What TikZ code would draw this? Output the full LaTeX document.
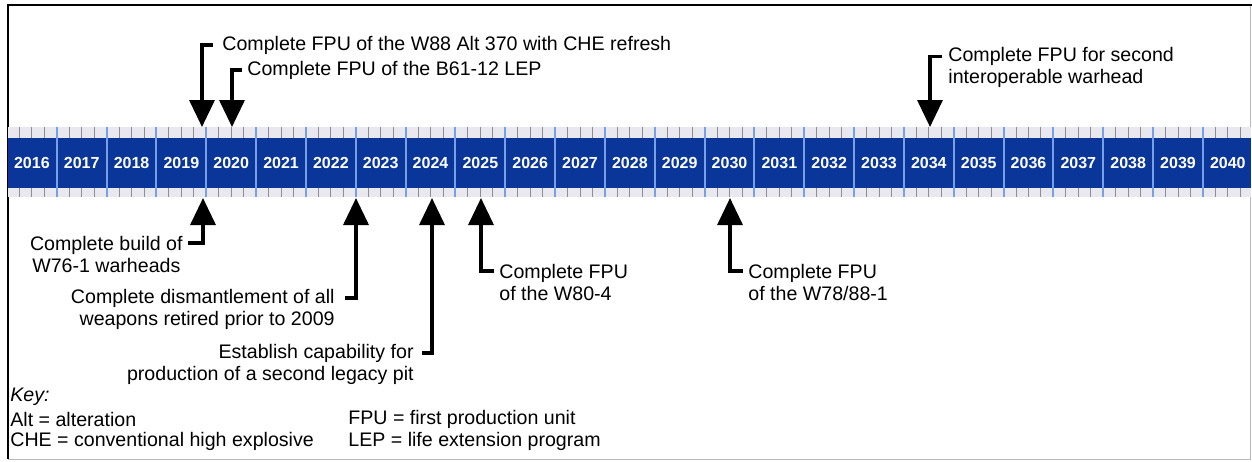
\documentclass[tikz,border=0pt]{standalone}
\usepackage{fontspec}
\setmainfont{Liberation Sans}
\usepackage{tikz}
\usetikzlibrary{arrows.meta, positioning}
\usepackage{xcolor}
\definecolor{bandBlue}{RGB}{10, 54, 154}
\definecolor{divBlue}{RGB}{120, 160, 228}
\definecolor{stripGray}{RGB}{232, 232, 238}
\definecolor{tickGray}{RGB}{140, 140, 152}

\begin{document}
\begin{tikzpicture}[x=0.5pt, y=-0.5pt,
    lbl/.style={font=\fontsize{9.8}{11}\selectfont, inner sep=0pt},
    yr/.style={font=\fontsize{8}{9}\selectfont\bfseries, text=white, inner sep=0pt},
    evarrow/.style={line width=1.7pt, -{Triangle[width=12.5pt, length=13.5pt]}}]
  \useasboundingbox (0,0) rectangle (1252,461);

  % Frame
  \draw[gray!55, line width=0.5pt] (1250,5) -- (1250,459) -- (8,459);
  \draw[line width=1.4pt] (8,459) -- (8,5) -- (1252,5);

  % Tick strips
  \fill[stripGray] (8,127) rectangle (1251,138);
  \fill[stripGray] (8,188) rectangle (1251,197);
  \foreach \q in {1,...,99} {
    \pgfmathsetmacro{\qx}{7+\q*49.83/4}
    \draw[tickGray, line width=0.5pt] (\qx,127) -- (\qx,138) (\qx,188) -- (\qx,197);
  }

  % Year band
  \fill[bandBlue] (8,138) rectangle (1251,188);
  \foreach \i in {1,...,24} {
    \pgfmathsetmacro{\dx}{7+\i*49.83}
    \draw[divBlue, line width=1pt] (\dx,127) -- (\dx,197);
  }
  \foreach \i in {0,...,24} {
    \pgfmathtruncatemacro{\yy}{2016+\i}
    \node[yr] (y\yy) at (7+\i*49.83+24.9, 163) {\yy};
  }

  % Arrow tips
  \coordinate (tW88) at (202,127);
  \coordinate (tB61) at (232,127);
  \coordinate (tIOW) at (930,127);
  \coordinate (tW76) at (203,198);
  \coordinate (tDis) at (356,198);
  \coordinate (tPit) at (432,198);
  \coordinate (tW80) at (481,198);
  \coordinate (tW78) at (730,198);

  % Milestones above
  \node[lbl, anchor=west] (lW88) at (222,45) {Complete FPU of the W88 Alt 370 with CHE refresh};
  \node[lbl, anchor=west] (lB61) at (247,70) {Complete FPU of the B61-12 LEP};
  \node[lbl, anchor=west, align=left] (lIOW) at (948,67.5) {Complete FPU for second\\interoperable warhead};

  \draw[evarrow] ([xshift=-4.5pt]lW88.west) -| (tW88);
  \draw[evarrow] ([xshift=-2.5pt]lB61.west) -| (tB61);
  \draw[evarrow] ([xshift=-3pt, yshift=5.5pt]lIOW.west) -| (tIOW);

  % Milestones below
  \node[lbl, anchor=east, align=center] (lW76) at (183,254) {Complete build of\\W76-1 warheads};
  \node[lbl, anchor=east, align=right] (lDis) at (335,309) {Complete dismantlement of all\\weapons retired prior to 2009};
  \node[lbl, anchor=east, align=right] (lPit) at (414,364) {Establish capability for\\production of a second legacy pit};
  \node[lbl, anchor=west, align=left] (lW80) at (499,282) {Complete FPU\\of the W80-4};
  \node[lbl, anchor=west, align=left] (lW78) at (748,282) {Complete FPU\\of the W78/88-1};

  \draw[evarrow] ([xshift=2.5pt, yshift=5.5pt]lW76.east) -| (tW76);
  \draw[evarrow] ([xshift=5pt, yshift=5.5pt]lDis.east) -| (tDis);
  \draw[evarrow] ([xshift=4pt, yshift=5.5pt]lPit.east) -| (tPit);
  \draw[evarrow] ([xshift=-2.5pt, yshift=5.5pt]lW80.west) -| (tW80);
  \draw[evarrow] ([xshift=-2.5pt, yshift=5.5pt]lW78.west) -| (tW78);

  % Key
  \node[lbl, anchor=west, font=\fontsize{9.8}{11}\selectfont\itshape] (key) at (10,397) {Key:};
  \node[lbl, anchor=west] (kAlt) at (10,419) {Alt = alteration};
  \node[lbl, anchor=west] (kCHE) at (10,441) {CHE = conventional high explosive};
  \node[lbl, anchor=west] (kFPU) at (348,419) {FPU = first production unit};
  \node[lbl, anchor=west] (kLEP) at (348,441) {LEP = life extension program};
\end{tikzpicture}
\end{document}
